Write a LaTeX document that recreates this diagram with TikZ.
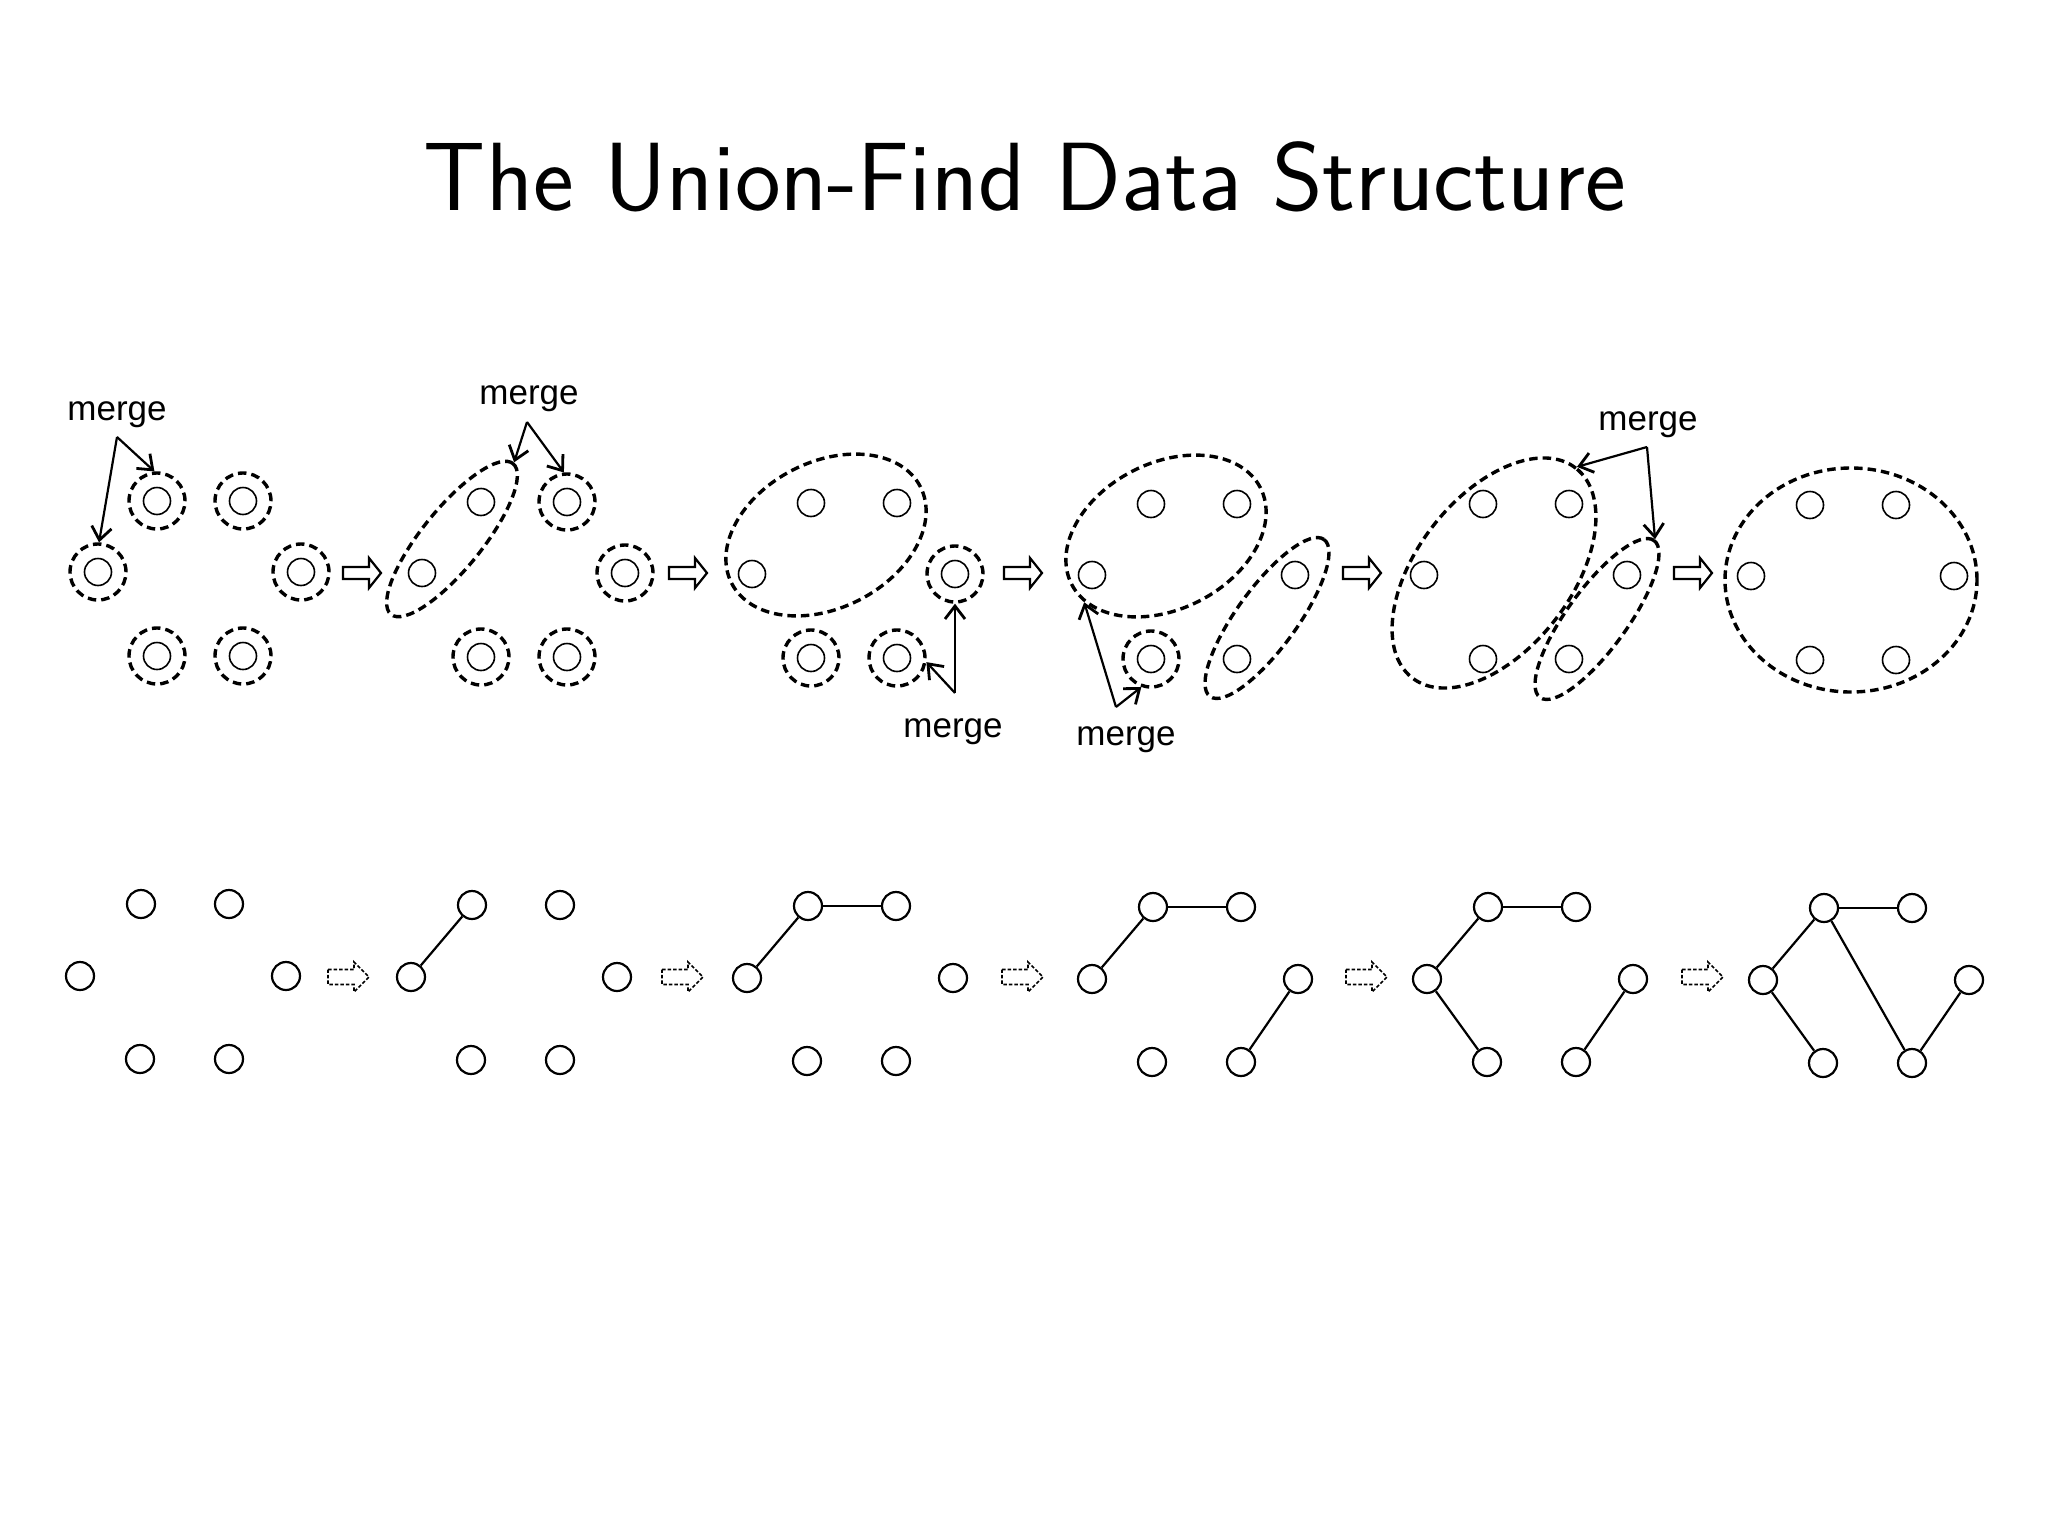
\documentclass[tikz,border=0pt]{standalone}
\usepackage{fontspec}
\newfontfamily\arialf{Liberation Sans}
\usetikzlibrary{arrows.meta,shapes.geometric}
\begin{document}
\begin{tikzpicture}[x=1pt,y=-1pt,
  elem/.style={circle, draw, line width=1.6pt, minimum size=27pt, inner sep=0pt},
  ring/.style={circle, draw, dash pattern=on 8.5pt off 5pt, line width=3.4pt, minimum size=56pt, inner sep=0pt},
  bnode/.style={circle, draw, line width=2.2pt, minimum size=28pt, inner sep=0pt},
  grp/.style={ellipse, draw, dash pattern=on 8.5pt off 5pt, line width=3.4pt, inner sep=0pt},
  mergearrow/.style={-{Straight Barb[length=13pt,width=20pt,line width=2.8pt]}, line width=2.2pt},
  mergelabel/.style={font=\arialf\fontsize{35}{40}\selectfont, anchor=base, inner sep=0pt},
  link/.style={line width=2.2pt},
  hollowarrow/.pic={\draw[line width=2.2pt, line join=miter] (0,-6) -- (26,-6) -- (26,-15) -- (38,0) -- (26,15) -- (26,6) -- (0,6) -- cycle;},
  dasharrow/.pic={\draw[line width=1.7pt, dash pattern=on 3.5pt off 2pt] (0,-7.5) -- (26,-7.5) -- (26,-15) -- (41,0) -- (26,15) -- (26,7.5) -- (0,7.5) -- cycle;}
]
\fill[white] (0,0) rectangle (2048,1536);
\useasboundingbox (0,0) rectangle (2048,1536);

% title
\node[font=\sffamily\fontsize{97}{106}\selectfont, anchor=base, inner sep=0pt] (title) at (1025,210) {The Union-Find Data Structure};

% ---------- top row ----------
\foreach \p/\L/\dy in {1/98/0, 2/422/1, 3/752/2, 4/1092/3, 5/1424/3, 6/1751/4}{
  \foreach \k/\ox/\oy in {1/0/572, 2/59/501, 3/145/501, 4/203/572, 5/59/656, 6/145/656}{
    \node[elem] (t\p-\k) at (\L+\ox, \oy+\dy) {};
  }
}
\foreach \p/\k in {1/1,1/2,1/3,1/4,1/5,1/6, 2/3,2/4,2/5,2/6, 3/4,3/5,3/6, 4/5}{
  \node[ring] (r\p-\k) at (t\p-\k) {};
}
% groups
\node[grp, minimum width=194pt, minimum height=60pt, rotate=51] (e2) at (452,539) {};
\node[grp, minimum width=212pt, minimum height=146pt, rotate=27] (e3) at (826,535) {};
\node[grp, minimum width=212pt, minimum height=146pt, rotate=27] (e4) at (1166,536) {};
\node[grp, minimum width=194pt, minimum height=60pt, rotate=54] (e4s) at (1267,618) {};
\node[grp, minimum width=266pt, minimum height=154pt, rotate=52] (e5) at (1494,573) {};
\node[grp, minimum width=194pt, minimum height=60pt, rotate=54] (e5s) at (1597,619) {};
\node[grp, minimum width=252pt, minimum height=224pt] (e6) at (1851,580) {};

% hollow arrows
\foreach \x in {343, 669, 1004, 1343, 1674}{
  \pic at (\x,573) {hollowarrow};
}

% merge labels and arrows
\node[mergelabel] (m1) at (117,420) {merge};
\coordinate (a1) at (117,437);
\draw[mergearrow] (a1) -- (r1-2.95);
\draw[mergearrow] (a1) -- (r1-1.88);

\node[mergelabel] (m2) at (529,404) {merge};
\coordinate (a2) at (527,422);
\draw[mergearrow] (a2) -- (e2.0);
\draw[mergearrow] (a2) -- (r2-3.96);

\node[mergelabel] (m3) at (953,737) {merge};
\coordinate (a3) at (955,693);
\draw[mergearrow] (a3) -- (r3-4.south);
\draw[mergearrow] (a3) -- (r3-6.-8);

\node[mergelabel] (m4) at (1126,745) {merge};
\coordinate (a4) at (1116,707);
\draw[mergearrow] (a4) -- (e4.192);
\draw[mergearrow] (a4) -- (r4-5.251);

\node[mergelabel] (m5) at (1648,430) {merge};
\coordinate (a5) at (1647,447);
\draw[mergearrow] (a5) -- (e5.0);
\draw[mergearrow] (a5) -- (e5s.0);

% ---------- bottom row ----------
\foreach \p/\L/\dy in {1/80/0, 2/411/1, 3/747/2, 4/1092/3, 5/1427/3, 6/1763/4}{
  \foreach \k/\ox/\oy in {1/0/976, 2/61/904, 3/149/904, 4/206/976, 5/60/1059, 6/149/1059}{
    \node[bnode] (b\p-\k) at (\L+\ox, \oy+\dy) {};
  }
}
\foreach \x in {328, 662, 1002, 1346, 1682}{
  \pic at (\x,977) {dasharrow};
}
\draw[link] (b2-1) -- (b2-2);
\draw[link] (b3-1) -- (b3-2);
\draw[link] (b3-2) -- (b3-3);
\draw[link] (b4-1) -- (b4-2);
\draw[link] (b4-2) -- (b4-3);
\draw[link] (b4-4) -- (b4-6);
\draw[link] (b5-1) -- (b5-2);
\draw[link] (b5-2) -- (b5-3);
\draw[link] (b5-1) -- (b5-5);
\draw[link] (b5-4) -- (b5-6);
\draw[link] (b6-1) -- (b6-2);
\draw[link] (b6-2) -- (b6-3);
\draw[link] (b6-1) -- (b6-5);
\draw[link] (b6-2) -- (b6-6);
\draw[link] (b6-4) -- (b6-6);
\end{tikzpicture}
\end{document}
